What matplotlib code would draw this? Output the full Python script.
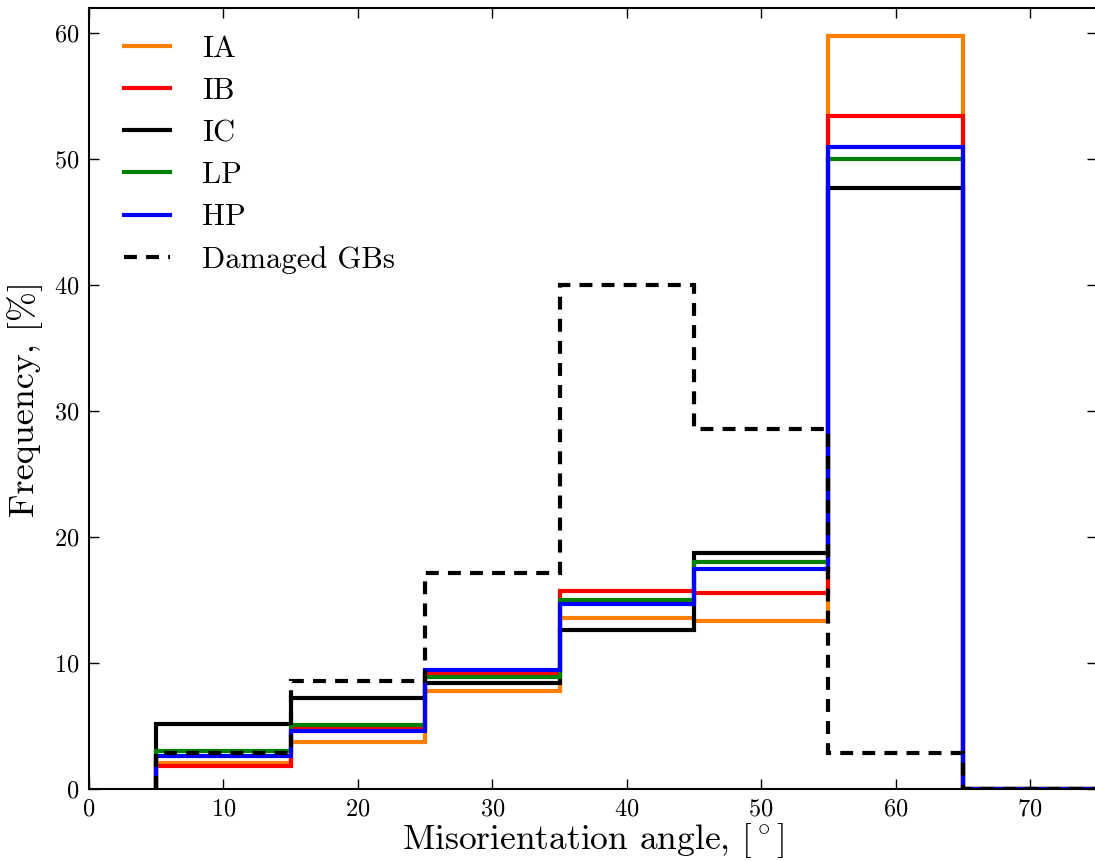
import numpy as np
import matplotlib
matplotlib.use('Agg')
import matplotlib.pyplot as plt

# ── Data ──────────────────────────────────────────────────────────────────────
edges = [5, 15, 25, 35, 45, 55, 65, 75]
ia = [2.1, 3.7, 7.8, 13.6, 13.3, 59.8, 0.0]
ib = [1.85, 4.8, 9.1, 15.7, 15.6, 53.4, 0.0]
ic = [5.2, 7.2, 8.4, 12.6, 18.7, 47.7, 0.0]
lp = [3.0, 5.1, 8.9, 15.0, 18.0, 50.0, 0.0]
hp = [2.6, 4.6, 9.45, 14.7, 17.5, 51.0, 0.0]
damaged = [2.86, 8.57, 17.14, 40.0, 28.57, 2.86, 0.0]

series = [('IA', ia, '#ff7f00'), ('IB', ib, 'r'), ('IC', ic, 'k'),
          ('LP', lp, 'g'), ('HP', hp, 'b')]

# ── Style ─────────────────────────────────────────────────────────────────────
plt.rcParams['font.family'] = 'serif'
plt.rcParams['font.serif'] = ['cmr10', 'DejaVu Serif']
plt.rcParams['mathtext.fontset'] = 'cm'
plt.rcParams['axes.formatter.use_mathtext'] = True

fig = plt.figure(figsize=(10.95, 8.61), dpi=100)
ax = fig.add_axes([0.0813, 0.0836, 0.9207, 0.9071])

for name, vals, col in series:
    ax.stairs(vals, edges, baseline=0, color=col, lw=3, label=name)
ax.stairs(damaged, edges, baseline=0, color='k', lw=3,
          ls=(0, (3.1, 2.2)), label='Damaged GBs')

ax.set_xlim(0, 75)
ax.set_ylim(0, 62)
ax.set_xticks(np.arange(0, 71, 10))
ax.set_yticks(np.arange(0, 61, 10))
ax.tick_params(direction='in', top=True, right=True, length=7, width=1,
               labelsize=17.5, pad=7)
for s in ax.spines.values():
    s.set_linewidth(1.5)

ax.set_xlabel(r'Misorientation angle, [$^\circ$]', fontsize=25.5, labelpad=0)
ax.set_ylabel(r'Frequency, [%]', fontsize=26, labelpad=8)

ax.legend(loc='upper left', bbox_to_anchor=(0.003, 1.006), frameon=False,
          fontsize=22, handlelength=1.5, handletextpad=1.05,
          labelspacing=0.48, borderaxespad=0.65)

fig.savefig('out.png', dpi=100)
